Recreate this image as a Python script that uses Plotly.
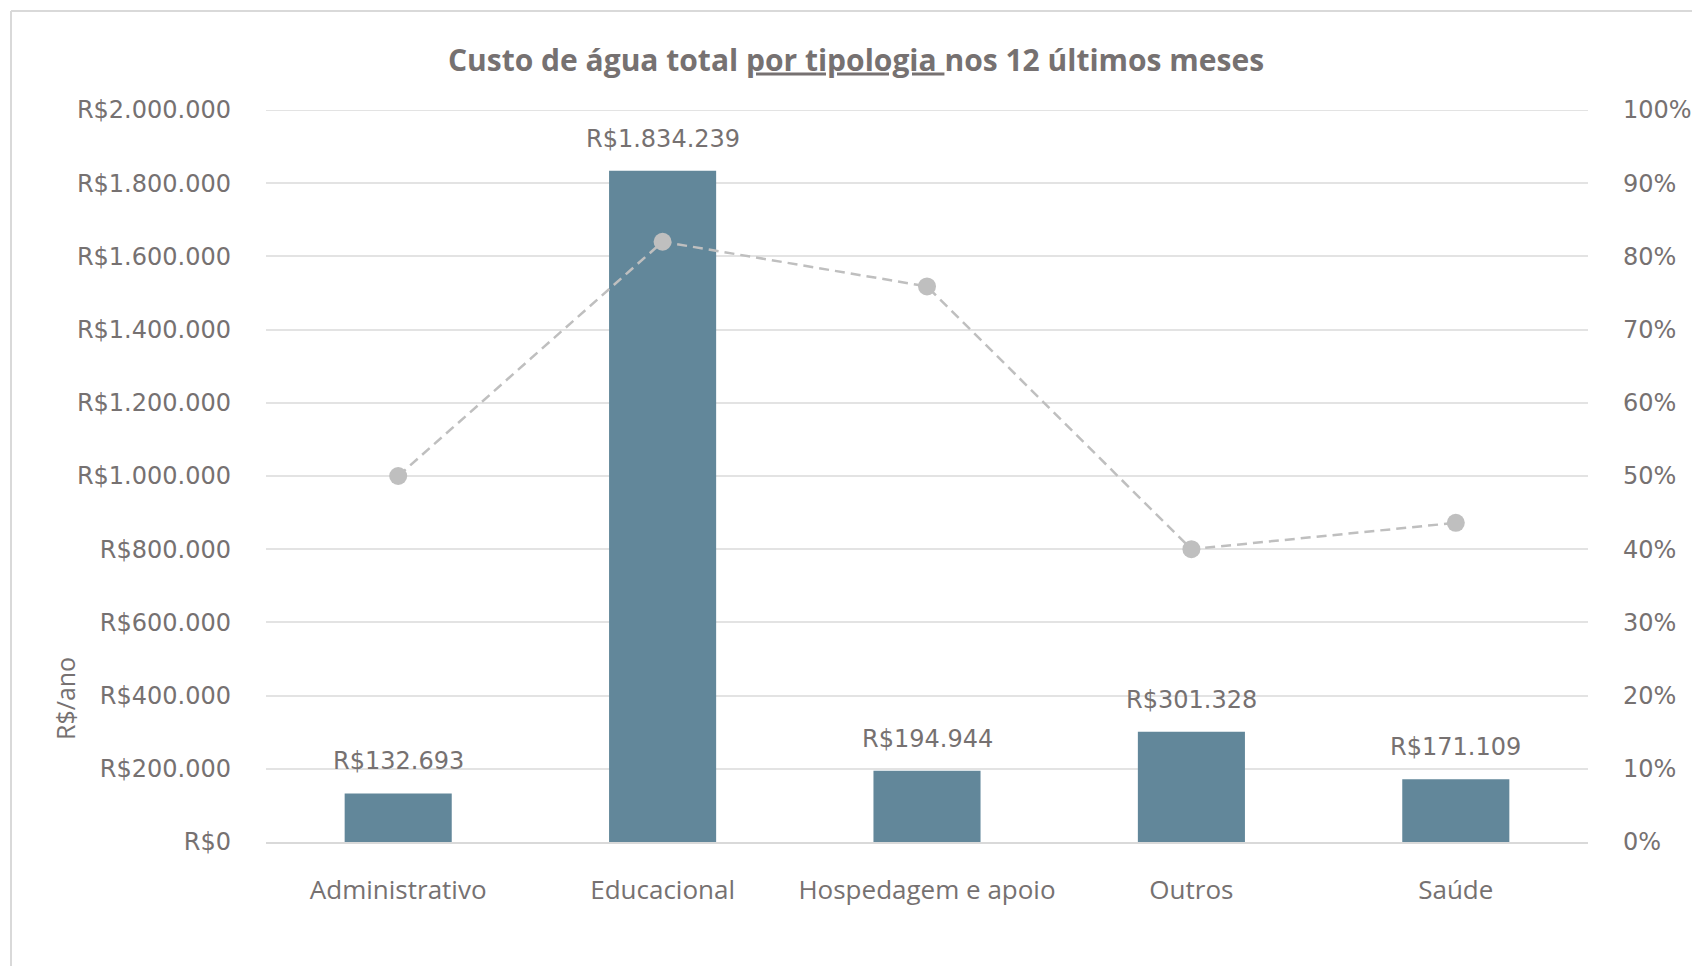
import plotly.graph_objects as go

categories = ["Administrativo", "Educacional", "Hospedagem e apoio", "Outros", "Saúde"]
custo_anual = [132693, 1834239, 194944, 301328, 171109]
percentual = [0.50, 0.82, 0.759, 0.40, 0.436]

left_ticks = list(range(0, 2000001, 200000))
left_ticktext = ["R$" + (f"{v:,}".replace(",", ".")) for v in left_ticks]
right_ticks = [i / 10 for i in range(11)]
right_ticktext = [f"{int(round(v * 100))}%" for v in right_ticks]

OFF = 8  # default page body margin
W, H = 1700 - OFF, 966 - OFF
L, T = 266 - OFF, 110 - OFF
pw, ph = 1322, 732
R, B = W - L - pw, H - T - ph

TEXT = "#767171"
GRID = "#e3e3e3"
BAR = "#62879a"
LINE = "#bfbfbf"
FONT = "Open Sans"
NUMFONT = "DejaVu Sans"


def py(y_px):
    """full-image pixel y -> paper y"""
    return (T + ph - (y_px - OFF)) / ph


def px(x_px):
    return (x_px - OFF - L) / pw


fig = go.Figure()
fig.add_trace(go.Bar(
    x=categories, y=custo_anual, marker=dict(color=BAR, line=dict(width=0)),
    width=0.405, yaxis="y", showlegend=False,
))
fig.add_trace(go.Scatter(
    x=categories, y=percentual, mode="lines+markers", yaxis="y2",
    line=dict(color=LINE, width=2.5, dash="10px,6px"),
    marker=dict(color=LINE, size=18), showlegend=False,
))

for c, v in zip(categories, custo_anual):
    fig.add_annotation(
        x=c, y=v, xref="x", yref="y", text="R$" + f"{v:,}".replace(",", "."),
        showarrow=False, yanchor="bottom", yshift=16,
        font=dict(family=NUMFONT, size=24, color=TEXT),
    )

# y-axis title
fig.add_annotation(
    xref="paper", yref="paper", x=px(65), y=py(699), xanchor="center", yanchor="middle",
    text="R$/ano", textangle=-90, showarrow=False,
    font=dict(family=FONT, size=25, color=TEXT),
)

# top gridline (Plotly omits gridlines at the range end)
fig.add_shape(type="line", xref="paper", yref="y", x0=0, x1=1,
              y0=left_ticks[-1], y1=left_ticks[-1],
              line=dict(color=GRID, width=2), layer="below")

# chart border (light gray) at top and left
bx = px(11)
by = py(11)
fig.add_shape(type="line", xref="paper", yref="paper", x0=bx, x1=bx, y0=-1, y1=by,
              line=dict(color="#d9d9d9", width=2))
fig.add_shape(type="line", xref="paper", yref="paper", x0=bx, x1=2, y0=by, y1=by,
              line=dict(color="#d9d9d9", width=2))

fig.update_layout(
    width=W, height=H,
    margin=dict(l=L, r=R, t=T, b=B, autoexpand=False),
    paper_bgcolor="white", plot_bgcolor="white",
    title=dict(
        text="<b>Custo de água total <u>por tipologia </u>nos 12 últimos meses</b>",
        x=(856 - OFF) / W, xanchor="center", y=1 - (60 - OFF) / H, yanchor="middle",
        font=dict(family=FONT, size=30, color=TEXT),
    ),
    xaxis=dict(
        tickfont=dict(family=FONT, size=26, color=TEXT),
        showgrid=False, showline=True, linecolor="#d9d9d9", linewidth=2,
        ticklabelstandoff=24, ticks="",
    ),
    yaxis=dict(
        range=[0, 2000000], tickvals=left_ticks, ticktext=left_ticktext,
        tickfont=dict(family=NUMFONT, size=24, color=TEXT),
        showgrid=True, gridcolor=GRID, gridwidth=2, zeroline=False,
        ticklabelstandoff=34, ticks="",
    ),
    yaxis2=dict(
        range=[0, 1], tickvals=right_ticks, ticktext=right_ticktext,
        overlaying="y", side="right",
        tickfont=dict(family=NUMFONT, size=24, color=TEXT),
        showgrid=False, zeroline=False, ticklabelstandoff=34, ticks="",
    ),
    bargap=0.595,
)

fig.write_html("out.html")
